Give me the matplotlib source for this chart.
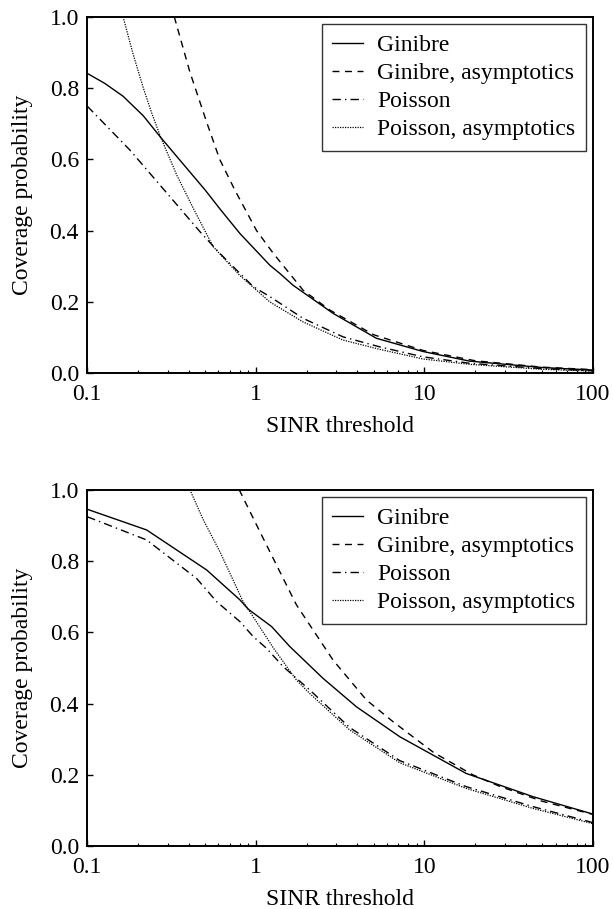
import matplotlib.pyplot as plt
from matplotlib.ticker import FixedLocator, FixedFormatter, LogLocator, NullFormatter

plt.rcParams['font.family'] = ['Liberation Serif', 'DejaVu Serif']

# ---- top panel
top_gin_x = [0.1, 0.127, 0.163, 0.215, 0.273, 0.5, 0.612, 0.804, 1.21, 1.387, 1.66, 2.87, 5.19, 9.8, 18.5, 50, 100]
top_gin_y = [0.841, 0.813, 0.777, 0.722, 0.661, 0.514, 0.461, 0.392, 0.303, 0.280, 0.247, 0.168, 0.098, 0.061, 0.034, 0.016, 0.009]

top_gin_asym_x = [0.328, 0.406, 0.51, 0.61, 0.75, 1.01, 1.27, 1.905, 2.75, 5.0, 9.8, 20, 50, 100]
top_gin_asym_y = [1.0, 0.845, 0.705, 0.60, 0.514, 0.40, 0.336, 0.233, 0.177, 0.108, 0.064, 0.035, 0.017, 0.010]

top_poi_x = [0.1, 0.179, 0.292, 0.466, 0.612, 0.964, 1.21, 1.905, 3.29, 5.43, 9.8, 18.5, 50, 100]
top_poi_y = [0.749, 0.626, 0.509, 0.397, 0.336, 0.243, 0.215, 0.154, 0.102, 0.074, 0.046, 0.028, 0.013, 0.007]

top_poi_asym_x = [0.163, 0.187, 0.215, 0.241, 0.273, 0.34, 0.425, 0.558, 0.8, 1.21, 1.905, 3.29, 5.43, 9.8, 18.5, 50, 100]
top_poi_asym_y = [1.0, 0.895, 0.80, 0.73, 0.661, 0.555, 0.463, 0.355, 0.275, 0.200, 0.144, 0.093, 0.067, 0.040, 0.025, 0.011, 0.006]

# ---- bottom panel
bot_gin_x = [0.1, 0.225, 0.51, 0.804, 0.90, 1.24, 1.59, 2.5, 3.95, 7.14, 17.7, 44, 100]
bot_gin_y = [0.945, 0.887, 0.775, 0.691, 0.665, 0.616, 0.56, 0.471, 0.391, 0.307, 0.204, 0.139, 0.090]

bot_gin_asym_x = [0.796, 1.057, 1.387, 1.74, 2.87, 4.53, 6.52, 11.4, 19.4, 27.9, 50, 100]
bot_gin_asym_y = [1.0, 0.882, 0.77, 0.677, 0.522, 0.41, 0.349, 0.262, 0.200, 0.168, 0.126, 0.089]

bot_poi_x = [0.1, 0.225, 0.445, 0.585, 0.804, 0.964, 1.157, 1.45, 2.09, 3.6, 7.14, 17.7, 44, 100]
bot_poi_y = [0.924, 0.859, 0.751, 0.686, 0.63, 0.588, 0.555, 0.504, 0.438, 0.333, 0.240, 0.167, 0.111, 0.066]

bot_poi_asym_x = [0.406, 0.488, 0.612, 0.84, 0.90, 1.27, 1.74, 2.09, 3.6, 7.14, 17.7, 44, 100]
bot_poi_asym_y = [1.0, 0.915, 0.826, 0.686, 0.665, 0.556, 0.466, 0.428, 0.326, 0.234, 0.162, 0.106, 0.063]

labels = ["Ginibre", "Ginibre, asymptotics", "Poisson", "Poisson, asymptotics"]
xticks = [0.1, 1, 10, 100]
xticklabels = ["0.1", "1", "10", "100"]
yticks = [0.0, 0.2, 0.4, 0.6, 0.8, 1.0]

fs = 17

fig = plt.figure(figsize=(6.13, 9.09), dpi=100)


def draw(ax, series):
    styles = [
        dict(color='black', lw=1.0, ls='-'),
        dict(color='black', lw=1.0, ls=(0, (5, 4))),
        dict(color='black', lw=1.0, ls=(0, (6, 3, 1, 3))),
        dict(color='black', lw=0.9, ls=(0, (1, 1))),
    ]
    for (x, y), lab, st in zip(series, labels, styles):
        ax.plot(x, y, label=lab, **st)
    ax.set_xscale('log')
    ax.set_xlim(0.1, 100)
    ax.set_ylim(0, 1)
    ax.xaxis.set_major_locator(FixedLocator(xticks))
    ax.xaxis.set_major_formatter(FixedFormatter(xticklabels))
    ax.xaxis.set_minor_locator(LogLocator(base=10, subs=range(2, 10)))
    ax.xaxis.set_minor_formatter(NullFormatter())
    ax.set_yticks(yticks)
    ax.set_yticklabels([f"{v:.1f}" for v in yticks])
    ax.tick_params(which='major', direction='in', length=4.5, width=1.0, labelsize=fs)
    ax.tick_params(axis='x', which='major', pad=8)
    ax.tick_params(axis='y', which='major', pad=6)
    ax.tick_params(which='minor', direction='in', length=2, width=0.8)
    ax.tick_params(top=False, right=False)
    for s in ax.spines.values():
        s.set_linewidth(1.4)
    ax.set_xlabel("SINR threshold", fontsize=fs, labelpad=8)
    ax.set_ylabel("Coverage probability", fontsize=fs, labelpad=12)
    leg = ax.legend(loc='upper right', fontsize=fs, frameon=True, fancybox=False,
                    edgecolor='black', handlelength=1.3, handletextpad=0.6,
                    labelspacing=0.28, borderaxespad=0.3, borderpad=0.45)
    leg.get_frame().set_linewidth(1.0)


ax1 = fig.add_axes([0.1424, 0.5894, 0.825, 0.3922])
draw(ax1, [(top_gin_x, top_gin_y), (top_gin_asym_x, top_gin_asym_y),
           (top_poi_x, top_poi_y), (top_poi_asym_x, top_poi_asym_y)])

ax2 = fig.add_axes([0.1424, 0.0691, 0.825, 0.3922])
draw(ax2, [(bot_gin_x, bot_gin_y), (bot_gin_asym_x, bot_gin_asym_y),
           (bot_poi_x, bot_poi_y), (bot_poi_asym_x, bot_poi_asym_y)])

fig.savefig("out.png", dpi=100)
